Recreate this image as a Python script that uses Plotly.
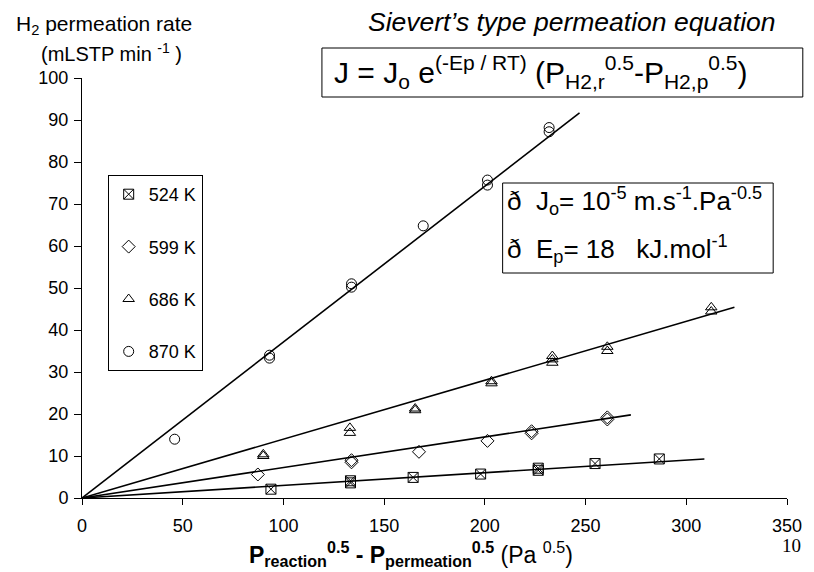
import plotly.graph_objects as go

# ---- data ----
series_names = ["524 K", "599 K", "686 K", "870 K"]
symbols = ["square-x-open", "diamond-open", "triangle-up-open", "circle-open"]

x_524 = [93.8, 133.3, 133.3, 164.4, 197.9, 226.5, 226.5, 254.7, 286.6]
y_524 = [2.1, 3.6, 4.1, 4.9, 5.7, 6.6, 7.1, 8.2, 9.3]

x_599 = [87.3, 133.8, 133.8, 167.3, 201.3, 223.2, 223.2, 260.8, 260.8]
y_599 = [5.6, 8.5, 9.0, 11.0, 13.6, 15.4, 15.9, 18.7, 19.2]

x_686 = [90.0, 90.0, 133.0, 133.0, 165.4, 165.4, 203.3, 203.3, 233.5, 233.5, 233.5, 260.8, 260.8, 312.4, 312.4]
y_686 = [10.0, 10.4, 15.5, 16.7, 20.9, 21.3, 27.3, 27.8, 32.2, 33.0, 33.8, 35.0, 36.0, 44.4, 45.4]

x_870 = [46.0, 93.1, 93.1, 133.8, 133.8, 169.4, 201.3, 201.3, 231.9, 231.9]
y_870 = [14.0, 33.3, 34.0, 50.2, 51.0, 64.8, 74.5, 75.7, 87.2, 88.2]

# fitted straight lines through the origin: (start, end)
fit_x = {"524 K": [0, 309], "599 K": [0, 272.5], "686 K": [0, 323.9], "870 K": [0, 247]}
fit_y = {"524 K": [0, 9.3], "599 K": [0, 19.8], "686 K": [0, 45.4], "870 K": [0, 91.7]}

x_ticks = [0, 50, 100, 150, 200, 250, 300, 350]
y_ticks = [0, 10, 20, 30, 40, 50, 60, 70, 80, 90, 100]

data_x = [x_524, x_599, x_686, x_870]
data_y = [y_524, y_599, y_686, y_870]

FONT = "Arial, Liberation Sans, sans-serif"

fig = go.Figure()

for name, xs, ys in zip(series_names, data_x, data_y):
    fig.add_trace(go.Scatter(x=fit_x[name], y=fit_y[name], mode="lines",
                             line=dict(color="black", width=1.6),
                             showlegend=False, legendgroup=name, hoverinfo="skip"))

for name, sym, xs, ys in zip(series_names, symbols, data_x, data_y):
    fig.add_trace(go.Scatter(x=xs, y=ys, mode="markers", name=name,
                             legendgroup=name,
                             marker=dict(symbol=sym, size=10, color="black",
                                         line=dict(color="black", width=1))))

# plot area pixels: x 82..796, y 78..498
L, R, T, B = 82, 796, 78, 498
W, H = 814, 572
def px(x):
    return (x - L) / (R - L)
def py(y):
    return (B - y) / (B - T)

fig.update_layout(
    width=W, height=H,
    margin=dict(l=L, r=W - R, t=T, b=H - B, pad=0),
    paper_bgcolor="white", plot_bgcolor="white",
    font=dict(family=FONT, size=18, color="black"),
    showlegend=True,
    legend=dict(x=px(108), y=py(175), xanchor="left", yanchor="top",
                bordercolor="black", borderwidth=1, bgcolor="white",
                font=dict(size=18), tracegroupgap=26, traceorder="grouped",
                itemsizing="trace", itemwidth=30),
    xaxis=dict(range=[0, 350], tickvals=x_ticks, showgrid=False, zeroline=False,
               showline=True, linecolor="black", linewidth=1,
               ticks="outside", ticklen=6, tickcolor="black",
               tickfont=dict(size=18), ticklabelstandoff=5),
    yaxis=dict(range=[0, 100], tickvals=y_ticks, showgrid=False, zeroline=False,
               showline=True, linecolor="black", linewidth=1,
               ticks="outside", ticklen=7, tickcolor="black",
               tickfont=dict(size=18), ticklabelstandoff=2),
)

ann = []
ann.append(dict(text="H<sub>2</sub> permeation rate", x=px(13), y=py(25),
                xanchor="left", yanchor="middle", font=dict(size=21)))
ann.append(dict(text="(mLSTP min <sup>-1</sup> )", x=px(38), y=py(52),
                xanchor="left", yanchor="middle", font=dict(size=20)))
ann.append(dict(text="<i>Sievert\u2019s type permeation equation</i>", x=px(578), y=py(22),
                xanchor="center", yanchor="middle", font=dict(size=26.5)))
ann.append(dict(text="J = J<sub>o</sub> e<sup>(-Ep / RT)</sup> (P<sub>H2,r</sub><sup>0.5</sup>-P<sub>H2,p</sub><sup>0.5</sup>)",
                x=px(335), y=py(72), xanchor="left", yanchor="middle", font=dict(size=30)))
ann.append(dict(text="\u00f0  J<sub>o</sub>= 10<sup>-5</sup> m.s<sup>-1</sup>.Pa<sup>-0.5</sup>",
                x=px(510), y=py(201), xanchor="left", yanchor="middle", font=dict(size=26)))
ann.append(dict(text="\u00f0  E<sub>p</sub>= 18   kJ.mol<sup>-1</sup>",
                x=px(510), y=py(249), xanchor="left", yanchor="middle", font=dict(size=26)))
ann.append(dict(text="<b>P<sub>reaction</sub><sup>0.5</sup> - P<sub>permeation</sub><sup>0.5</sup></b> (Pa <sup>0.5</sup>)",
                x=px(415), y=py(554), xanchor="center", yanchor="middle", font=dict(size=23)))
ann.append(dict(text="10", x=px(801), y=py(545), xanchor="center", yanchor="middle",
                font=dict(size=19, family="Liberation Serif, Times New Roman, serif")))
for a in ann:
    a.update(xref="paper", yref="paper", showarrow=False)
fig.update_layout(annotations=ann)

shapes = [
    dict(type="rect", x0=px(325), x1=px(812), y0=py(48), y1=py(97)),
    dict(type="rect", x0=px(508), x1=px(782), y0=py(183), y1=py(273)),
]
for s in shapes:
    s.update(xref="paper", yref="paper", line=dict(color="black", width=1),
             fillcolor="rgba(0,0,0,0)")
fig.update_layout(shapes=shapes)

fig.write_html("out.html")
